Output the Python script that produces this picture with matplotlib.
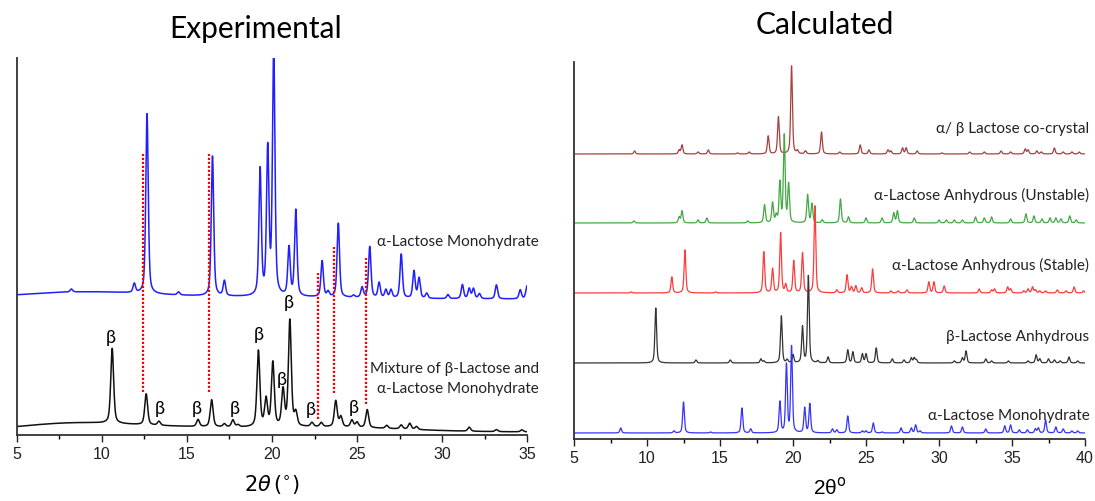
import numpy as np
import matplotlib
matplotlib.use("Agg")
import matplotlib.pyplot as plt

plt.rcParams["font.family"] = ["Liberation Sans", "DejaVu Sans"]

# ---- experimental patterns (2theta, intensity above local baseline) ----
exp_alpha_pos = [8.2, 11.9, 12.65, 14.5, 16.5, 17.2, 19.3, 19.75, 20.1, 21.0, 21.4,
                 22.95, 23.3, 23.9, 24.8, 25.3, 25.75, 26.3, 26.7, 27.0, 27.6, 28.35,
                 28.65, 29.1, 30.35, 31.2, 31.6, 31.85, 32.2, 33.2, 34.6, 35.0]
exp_alpha_int = [3, 9, 180, 3, 140, 15, 126, 145, 250, 48, 86,
                 36, 5, 74, 2, 10, 51, 15, 8, 8, 44, 27,
                 20, 5, 4, 14, 10, 10, 5, 14, 9, 13]
exp_alpha_halo = [(9.0, 7, 4.0), (20.0, 2, 5.0)]
exp_alpha_base = 136

exp_mix_pos = [10.6, 12.6, 13.35, 15.65, 16.45, 17.2, 17.7, 18.0, 19.2, 19.65, 20.05,
               20.65, 21.05, 21.4, 22.35, 22.9, 23.75, 24.05, 24.7, 25.0, 25.6, 26.75,
               27.6, 28.1, 28.5, 31.6, 33.2, 34.7]
exp_mix_int = [75, 31, 4, 7, 27, 3, 7, 2, 76, 27, 64,
               36, 106, 13, 4, 4, 26, 10, 7, 5, 18, 3,
               4, 6, 3, 4, 2, 2]
exp_mix_halo = [(8.5, 9, 3.5), (15.0, 3, 3.0), (23.0, 5, 4.5)]
exp_mix_base = 3

beta_labels = [(10.5, 97), (13.4, 26), (15.6, 26), (17.8, 26), (19.2, 100),
               (20.6, 55), (21.0, 132), (22.3, 25), (24.8, 27)]
marker_lines = [(12.4, 43, 281), (16.3, 43, 281), (22.7, 16, 162),
                (23.65, 42, 188), (25.5, 31, 177)]

# ---- calculated patterns ----
calc_names = ["α/ β Lactose co-crystal", "α-Lactose Anhydrous (Unstable)",
              "α-Lactose Anhydrous (Stable)", "β-Lactose Anhydrous",
              "α-Lactose Monohydrate"]
calc_offsets = [285, 216, 146, 76, 6]
calc_colors = ["#a8403f", "#44a844", "#ff3b3b", "#333333", "#3333ff"]

cocrystal_pos = [9.15, 12.2, 12.4, 13.5, 14.2, 16.2, 17.0, 18.3, 19.0, 19.9, 20.3, 20.85,
                 21.95, 23.2, 24.6, 25.2, 26.5, 26.7, 27.5, 27.75, 28.5, 30.2, 32.1, 33.1,
                 34.25, 34.9, 35.9, 36.1, 36.7, 37.0, 37.9, 38.5, 39.1, 39.6]
cocrystal_int = [3, 4, 9, 2, 4, 1, 2, 18, 37, 88, 3, 3,
                 22, 2, 9, 4, 4, 3, 6, 6, 3, 1, 2, 2,
                 3, 2, 5, 4, 3, 2, 6, 2, 2, 2]

unstable_pos = [9.1, 12.2, 12.4, 13.5, 14.1, 16.9, 18.05, 18.6, 18.85, 19.1, 19.4, 19.7,
                21.0, 21.3, 22.0, 23.25, 23.8, 25.0, 26.1, 26.9, 27.15, 28.3, 30.0, 30.5,
                31.05, 31.6, 32.5, 33.1, 33.6, 34.9, 35.95, 36.5, 37.05, 37.6, 38.0, 38.35,
                38.95, 39.4]
unstable_int = [2, 6, 12, 3, 5, 2, 18, 20, 7, 40, 87, 38,
                28, 19, 3, 24, 6, 5, 5, 10, 12, 5, 3, 3,
                3, 3, 6, 5, 6, 4, 9, 7, 4, 5, 5, 4,
                7, 3]

stable_pos = [8.9, 11.7, 12.6, 14.7, 18.0, 18.6, 19.15, 19.5, 20.05, 20.65, 21.5, 23.0,
              23.7, 24.0, 24.3, 24.7, 25.45, 26.7, 27.2, 27.8, 29.3, 29.65, 30.35, 32.75,
              33.6, 33.8, 34.7, 34.9, 35.8, 36.1, 36.4, 36.6, 36.9, 37.3, 38.1, 38.7,
              39.25, 39.9]
stable_int = [1, 16, 43, 1, 41, 24, 60, 8, 32, 40, 87, 3,
              18, 6, 7, 5, 24, 2, 2, 3, 11, 11, 7, 4,
              3, 4, 6, 4, 2, 4, 6, 3, 2, 2, 3, 2,
              6, 2]

beta_pos = [10.6, 13.35, 15.7, 17.8, 18.0, 19.2, 19.6, 20.0, 20.65, 21.05, 21.7, 22.4,
            23.75, 24.1, 24.75, 25.0, 25.7, 26.8, 27.6, 28.1, 28.3, 28.45, 31.05, 31.6,
            31.85, 33.2, 33.6, 34.75, 36.1, 36.65, 36.9, 37.5, 37.9, 38.3, 38.9, 39.5]
beta_int = [55, 3, 3, 4, 2, 47, 3, 8, 36, 87, 2, 6,
            13, 11, 9, 9, 15, 4, 3, 5, 5, 3, 2, 5,
            12, 4, 2, 2, 2, 8, 4, 4, 3, 2, 6, 2]

mono_pos = [8.2, 11.85, 12.5, 14.35, 16.5, 17.1, 19.1, 19.55, 19.9, 20.8, 21.15, 22.7,
            23.0, 23.75, 24.75, 25.0, 25.5, 26.1, 27.4, 28.1, 28.4, 28.7, 30.85, 31.6,
            33.2, 34.5, 34.9, 35.5, 36.05, 36.6, 36.8, 37.3, 38.0, 38.5, 39.1, 39.5]
mono_int = [5, 2, 31, 1, 25, 4, 31, 68, 86, 25, 29, 4,
            3, 17, 2, 2, 10, 1, 5, 5, 8, 2, 7, 6,
            4, 7, 8, 3, 3, 4, 5, 13, 6, 4, 2, 2]

calc_pos = [cocrystal_pos, unstable_pos, stable_pos, beta_pos, mono_pos]
calc_int = [cocrystal_int, unstable_int, stable_int, beta_int, mono_int]

LABEL_FONT = "Lato"


def pattern(x, pos, ints, fwhm, eta=0.5):
    y = np.zeros_like(x)
    for p, h in zip(pos, ints):
        d = (x - p) / (fwhm / 2)
        y += h * (eta / (1 + d ** 2) + (1 - eta) * np.exp(-np.log(2) * d ** 2))
    return y


def halo(x, bumps):
    y = np.zeros_like(x)
    for c, h, s in bumps:
        y += h * np.exp(-(x - c) ** 2 / (2 * s ** 2))
    return y


fig = plt.figure(figsize=(10.95, 5.01), dpi=100)
ax1 = fig.add_axes([0.0155, 0.1317, 0.4658, 0.7525])
ax2 = fig.add_axes([0.5242, 0.1238, 0.4667, 0.7525])

for ax in (ax1, ax2):
    for side in ("top", "right"):
        ax.spines[side].set_visible(False)
    for side in ("left", "bottom"):
        ax.spines[side].set_color("#333333")
        ax.spines[side].set_linewidth(1.3)
    ax.set_yticks([])
    ax.tick_params(axis="x", which="major", direction="out", length=5, width=1,
                   labelsize=11.5, colors="#222222")
    ax.tick_params(axis="x", which="minor", direction="out", length=3, width=1)
    ax.set_ylim(0, 377)

# experimental panel
x1 = np.linspace(5, 35, 6000)
y_alpha = exp_alpha_base + halo(x1, exp_alpha_halo) + pattern(x1, exp_alpha_pos, exp_alpha_int, 0.17)
y_mix = exp_mix_base + halo(x1, exp_mix_halo) + pattern(x1, exp_mix_pos, exp_mix_int, 0.2)
ax1.plot(x1, y_alpha, color="#1f1fff", lw=1.1)
ax1.plot(x1, y_mix, color="#111111", lw=1.1)
for xm, y0, y1 in marker_lines:
    ax1.plot([xm, xm], [y0, y1], color="red", lw=1.6, ls=(0, (1, 0.8)))
for xb, yb in beta_labels:
    ax1.text(xb, yb, "β", ha="center", va="center", fontsize=13, family=LABEL_FONT)
for txt, yt in [("α-Lactose Monohydrate", 193), ("Mixture of β-Lactose and", 66),
                ("α-Lactose Monohydrate", 46)]:
    ax1.text(35.7, yt, txt, ha="right", va="center", fontsize=11,
             family=LABEL_FONT, color="#222222")
ax1.set_xlim(5, 35)
ax1.set_xticks(range(5, 36, 5))
ax1.set_xticks(np.arange(7.5, 35, 5), minor=True)
ax1.set_xlabel(r"$2\theta\,(^{\circ})$", fontsize=15, labelpad=8)
fig.text(256 / 1095, 1 - 29 / 501, "Experimental", ha="center", va="center",
         fontsize=21.5, family=LABEL_FONT)

# calculated panel
x2 = np.linspace(5, 40, 8000)
for pos, ints, off, col in zip(calc_pos, calc_int, calc_offsets, calc_colors):
    ax2.plot(x2, off + pattern(x2, pos, ints, 0.14), color=col, lw=0.9)
ax2.set_xlim(5, 40)
ax2.set_xticks(range(5, 41, 5))
ax2.set_xticks(np.arange(7.5, 40, 5), minor=True)
label_y = [310, 244, 174, 102, 23]
for name, yt in zip(calc_names, label_y):
    ax2.text(40.3, yt, name, ha="right", va="center", fontsize=11,
             family=LABEL_FONT, color="#222222")
ax2.set_xlabel("2θ$^\\mathrm{o}$", fontsize=15, labelpad=8)
fig.text(825 / 1095, 1 - 25 / 501, "Calculated", ha="center", va="center",
         fontsize=21.5, family=LABEL_FONT)

fig.savefig("out.png", dpi=100)
